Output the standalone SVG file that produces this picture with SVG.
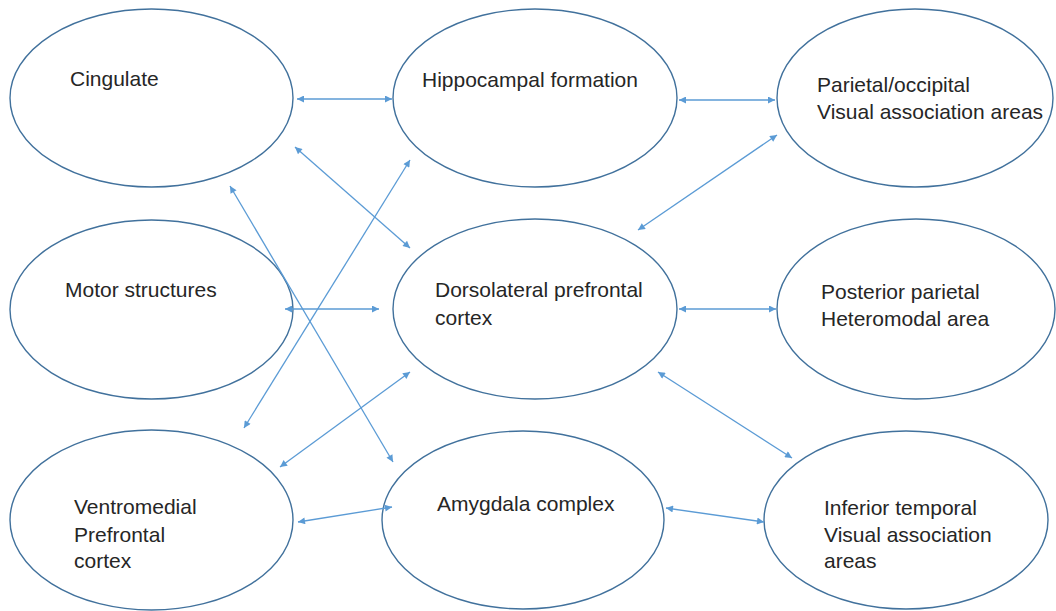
<svg xmlns="http://www.w3.org/2000/svg" width="1056" height="611" viewBox="0 0 1056 611">
<style>
.node ellipse{fill:#fff;stroke:#41719C;stroke-width:1.4}
.node text{font-family:"Liberation Sans",Arial,sans-serif;font-size:21px;fill:#262626}
#connectors line{stroke:#5B9BD5;stroke-width:1.3;marker-start:url(#ah);marker-end:url(#ah)}
</style>
<defs>
<marker id="ah" viewBox="0 0 10 10" refX="10" refY="5" markerWidth="9" markerHeight="7" markerUnits="userSpaceOnUse" orient="auto-start-reverse">
<path d="M0,0 L10,5 L0,10 z" fill="#5B9BD5"/>
</marker>
</defs>
<rect width="1056" height="611" fill="#fff"/>
<g id="n-cingulate" class="node"><ellipse cx="151.5" cy="98" rx="141.5" ry="89"/><text x="70" y="86">Cingulate</text></g>
<g id="n-hippocampal" class="node"><ellipse cx="535" cy="98" rx="142" ry="89"/><text x="422" y="87">Hippocampal formation</text></g>
<g id="n-parietal" class="node"><ellipse cx="915" cy="98" rx="138" ry="89"/><text x="817" y="92">Parietal/occipital</text><text x="817" y="119">Visual association areas</text></g>
<g id="n-motor" class="node"><ellipse cx="151.5" cy="309.5" rx="141.5" ry="89.5"/><text x="65" y="297">Motor structures</text></g>
<g id="n-dorsolateral" class="node"><ellipse cx="535" cy="309" rx="142" ry="90"/><text x="435" y="297">Dorsolateral prefrontal</text><text x="435" y="325">cortex</text></g>
<g id="n-posterior" class="node"><ellipse cx="916" cy="309" rx="139" ry="90"/><text x="821" y="299">Posterior parietal</text><text x="821" y="326">Heteromodal area</text></g>
<g id="n-ventromedial" class="node"><ellipse cx="151.5" cy="520" rx="141.5" ry="90"/><text x="74" y="514">Ventromedial</text><text x="74" y="542">Prefrontal</text><text x="74" y="568">cortex</text></g>
<g id="n-amygdala" class="node"><ellipse cx="523" cy="520" rx="141" ry="89"/><text x="437" y="511">Amygdala complex</text></g>
<g id="n-inferior" class="node"><ellipse cx="906" cy="520" rx="142" ry="89"/><text x="824" y="515">Inferior temporal</text><text x="824" y="542">Visual association</text><text x="824" y="568">areas</text></g>
<g id="connectors">
<line x1="297" y1="99" x2="392" y2="99"/>
<line x1="679" y1="100" x2="775" y2="100"/>
<line x1="295" y1="147" x2="410" y2="248"/>
<line x1="230" y1="186" x2="393" y2="462"/>
<line x1="410" y1="160" x2="244" y2="428"/>
<line x1="777" y1="135" x2="638" y2="230"/>
<line x1="285" y1="309" x2="379" y2="309"/>
<line x1="679" y1="309" x2="776" y2="309"/>
<line x1="410" y1="372" x2="280" y2="467"/>
<line x1="658" y1="372" x2="792" y2="458"/>
<line x1="298" y1="522" x2="392" y2="507"/>
<line x1="666" y1="508" x2="764" y2="522"/>
</g>
</svg>
